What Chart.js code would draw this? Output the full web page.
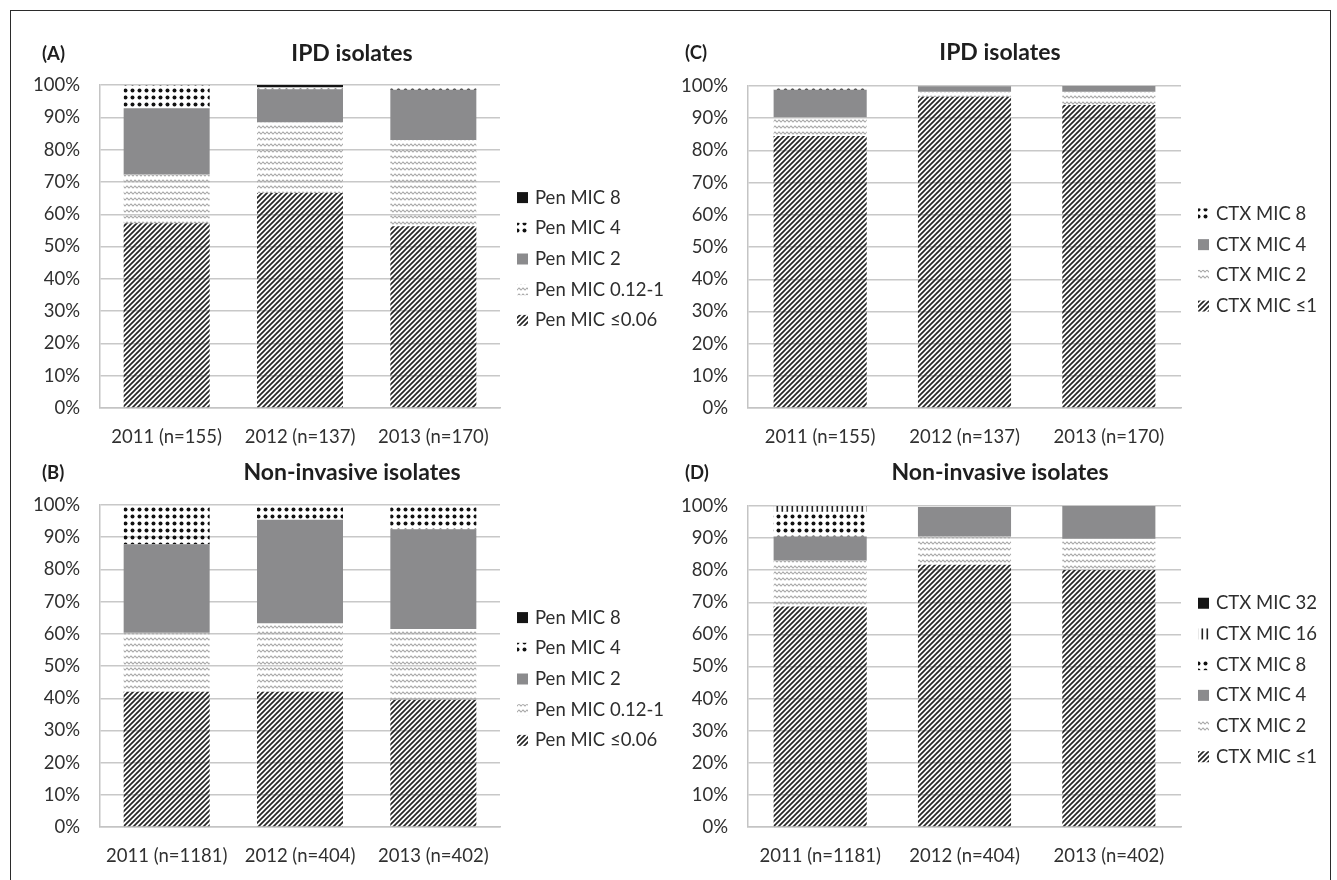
<!DOCTYPE html>
<html>
<head>
<meta charset="utf-8">
<script src="https://cdn.jsdelivr.net/npm/chart.js@4"></script>
<style>
  html, body { margin: 0; padding: 0; background: #fff; overflow: hidden; }
  body { width: 1337px; height: 880px; position: relative; }
  #frame { position: absolute; left: 10px; top: 10px; width: 1319px; height: 900px; border: 1.5px solid #2b2b2b; }
  canvas { position: absolute; }
  #cA { left: 10px; top: 10px; }
  #cC { left: 670px; top: 10px; }
  #cB { left: 10px; top: 450px; }
  #cD { left: 670px; top: 450px; }
</style>
</head>
<body>
<div id="frame"></div>
<canvas id="cA" width="660" height="440"></canvas>
<canvas id="cC" width="661" height="440"></canvas>
<canvas id="cB" width="660" height="430"></canvas>
<canvas id="cD" width="661" height="430"></canvas>
<script>
// categories
const ipdYears = ['2011 (n=155)', '2012 (n=137)', '2013 (n=170)'];
const nonYears = ['2011 (n=1181)', '2012 (n=404)', '2013 (n=402)'];
const yTicks = [0, 10, 20, 30, 40, 50, 60, 70, 80, 90, 100];

// series names (bottom of stack first)
const penNames = ['Pen MIC ≤0.06', 'Pen MIC 0.12-1', 'Pen MIC 2', 'Pen MIC 4', 'Pen MIC 8'];
const ctxNamesC = ['CTX MIC ≤1', 'CTX MIC 2', 'CTX MIC 4', 'CTX MIC 8'];
const ctxNamesD = ['CTX MIC ≤1', 'CTX MIC 2', 'CTX MIC 4', 'CTX MIC 8', 'CTX MIC 16', 'CTX MIC 32'];

// (A) IPD isolates, penicillin (% per year)
const ipdPenLe006 = [57.2, 66.6, 56.3];
const ipdPen012 = [15.1, 21.9, 26.7];
const ipdPen2 = [20.5, 10.2, 15.5];
const ipdPen4 = [7.2, 0.6, 1.2];
const ipdPen8 = [0, 0.7, 0];

// (B) non-invasive isolates, penicillin
const nonPenLe006 = [42.0, 42.0, 39.5];
const nonPen012 = [18.3, 21.3, 22.0];
const nonPen2 = [27.5, 32.1, 31.0];
const nonPen4 = [12.2, 4.6, 7.5];
const nonPen8 = [0, 0, 0];

// (C) IPD isolates, cefotaxime
const ipdCtxLe1 = [84.5, 96.7, 94.1];
const ipdCtx2 = [5.8, 1.5, 4.1];
const ipdCtx4 = [8.5, 1.7, 1.8];
const ipdCtx8 = [1.0, 0, 0];

// (D) non-invasive isolates, cefotaxime
const nonCtxLe1 = [68.7, 81.7, 80.1];
const nonCtx2 = [14.3, 8.8, 9.7];
const nonCtx4 = [7.5, 9.2, 10.2];
const nonCtx8 = [7.7, 0.3, 0];
const nonCtx16 = [1.8, 0, 0];
const nonCtx32 = [0, 0, 0];

const FONT = 'Lato, "Open Sans", sans-serif';
Chart.defaults.font.family = FONT;
Chart.defaults.font.size = 18.5;
Chart.defaults.color = '#303030';

const makeTile = (w, h, draw) => {
    const c = document.createElement('canvas');
    c.width = w;
    c.height = h;
    const g = c.getContext('2d');
    draw(g, w, h);
    return g.createPattern(c, 'repeat');
};

// fills
const fillDiag = makeTile(5, 5, (g, s) => {
    g.strokeStyle = '#262626';
    g.lineWidth = 1.7;
    g.beginPath();
    g.moveTo(0, s); g.lineTo(s, 0);
    g.moveTo(-1, 1); g.lineTo(1, -1);
    g.moveTo(s - 1, s + 1); g.lineTo(s + 1, s - 1);
    g.stroke();
});
const fillWave = makeTile(4, 6, (g) => {
    g.strokeStyle = '#ababab';
    g.lineWidth = 1.1;
    g.beginPath();
    g.moveTo(0, 3); g.lineTo(1, 2); g.lineTo(3, 4); g.lineTo(4, 3);
    g.stroke();
});
const fillDots = makeTile(7, 7, (g) => {
    g.fillStyle = '#111';
    g.beginPath();
    g.arc(3.5, 3.5, 2, 0, Math.PI * 2);
    g.fill();
});
const fillVert = makeTile(5, 5, (g) => {
    g.fillStyle = '#222';
    g.fillRect(1.5, 0, 1.6, 5);
});
const fillGray = '#8b8b8d';
const fillBlack = '#151515';

// custom decorations: title, panel letter and legend on the right
const panelDecor = {
    id: 'panelDecor',
    afterDraw(chart, args, o) {
        const { ctx } = chart;
        ctx.save();
        ctx.textBaseline = 'middle';
        ctx.fillStyle = '#1e1e1e';
        ctx.font = `bold 23px ${FONT}`;
        ctx.textAlign = 'center';
        ctx.fillText(o.title, o.titleX, o.titleY);
        ctx.font = `bold 18.5px ${FONT}`;
        ctx.textAlign = 'left';
        ctx.fillText(o.letter, o.letterX, o.titleY);

        const sets = chart.data.datasets.slice().reverse();
        const gap = 30.7;
        let y = o.legendY - gap * (sets.length - 1) / 2;
        ctx.font = `18.5px ${FONT}`;
        sets.forEach((ds) => {
            ctx.fillStyle = ds.backgroundColor;
            ctx.fillRect(o.legendX, y - 5.5, 11, 11);
            ctx.fillStyle = '#2e2e2e';
            ctx.fillText(ds.label, o.legendX + 18, y);
            y += gap;
        });
        ctx.restore();
    }
};

const makeChart = (id, years, names, series, fills, decor, pad) => {
    new Chart(document.getElementById(id), {
        type: 'bar',
        data: {
            labels: years,
            datasets: series.map((values, i) => ({
                label: names[i],
                data: values,
                backgroundColor: fills[i],
                borderWidth: 0,
                barPercentage: 0.645,
                categoryPercentage: 1
            }))
        },
        options: {
            responsive: false,
            animation: false,
            layout: { padding: pad },
            plugins: {
                legend: { display: false },
                tooltip: { enabled: false },
                panelDecor: decor
            },
            scales: {
                x: {
                    stacked: true,
                    grid: { display: false },
                    border: { color: '#c4c4c4', width: 1.5 },
                    ticks: { padding: 10, maxRotation: 0 },
                    afterFit: (s) => { s.height = 50; }
                },
                y: {
                    stacked: true,
                    min: 0,
                    max: 100,
                    afterBuildTicks: (s) => { s.ticks = yTicks.map((v) => ({ value: v })); },
                    ticks: { padding: 20, callback: (v) => v + '%' },
                    grid: { color: '#c8c8c8', lineWidth: 1.4, drawTicks: false },
                    border: { color: '#c4c4c4', width: 1.5 },
                    afterFit: (s) => { s.width = 80; }
                }
            }
        },
        plugins: [panelDecor]
    });
};

const penFills = [fillDiag, fillWave, fillGray, fillDots, fillBlack];
const ctxFills = [fillDiag, fillWave, fillGray, fillDots, fillVert, fillBlack];

makeChart('cA', ipdYears, penNames,
    [ipdPenLe006, ipdPen012, ipdPen2, ipdPen4, ipdPen8], penFills,
    { title: 'IPD isolates', letter: '(A)', titleX: 342, titleY: 44, letterX: 32, legendX: 507, legendY: 249 },
    { left: 10, right: 170, top: 75, bottom: -8 });

makeChart('cB', nonYears, penNames,
    [nonPenLe006, nonPen012, nonPen2, nonPen4, nonPen8], penFills,
    { title: 'Non-invasive isolates', letter: '(B)', titleX: 342, titleY: 23, letterX: 32, legendX: 507, legendY: 229 },
    { left: 10, right: 170, top: 55, bottom: 3 });

makeChart('cC', ipdYears, ctxNamesC,
    [ipdCtxLe1, ipdCtx2, ipdCtx4, ipdCtx8], ctxFills,
    { title: 'IPD isolates', letter: '(C)', titleX: 330, titleY: 43, letterX: 15, legendX: 528, legendY: 250 },
    { left: -2, right: 150, top: 76, bottom: -8 });

makeChart('cD', nonYears, ctxNamesD,
    [nonCtxLe1, nonCtx2, nonCtx4, nonCtx8, nonCtx16, nonCtx32], ctxFills,
    { title: 'Non-invasive isolates', letter: '(D)', titleX: 330, titleY: 23, letterX: 15, legendX: 528, legendY: 230 },
    { left: -2, right: 150, top: 56, bottom: 3 });
</script>
</body>
</html>
